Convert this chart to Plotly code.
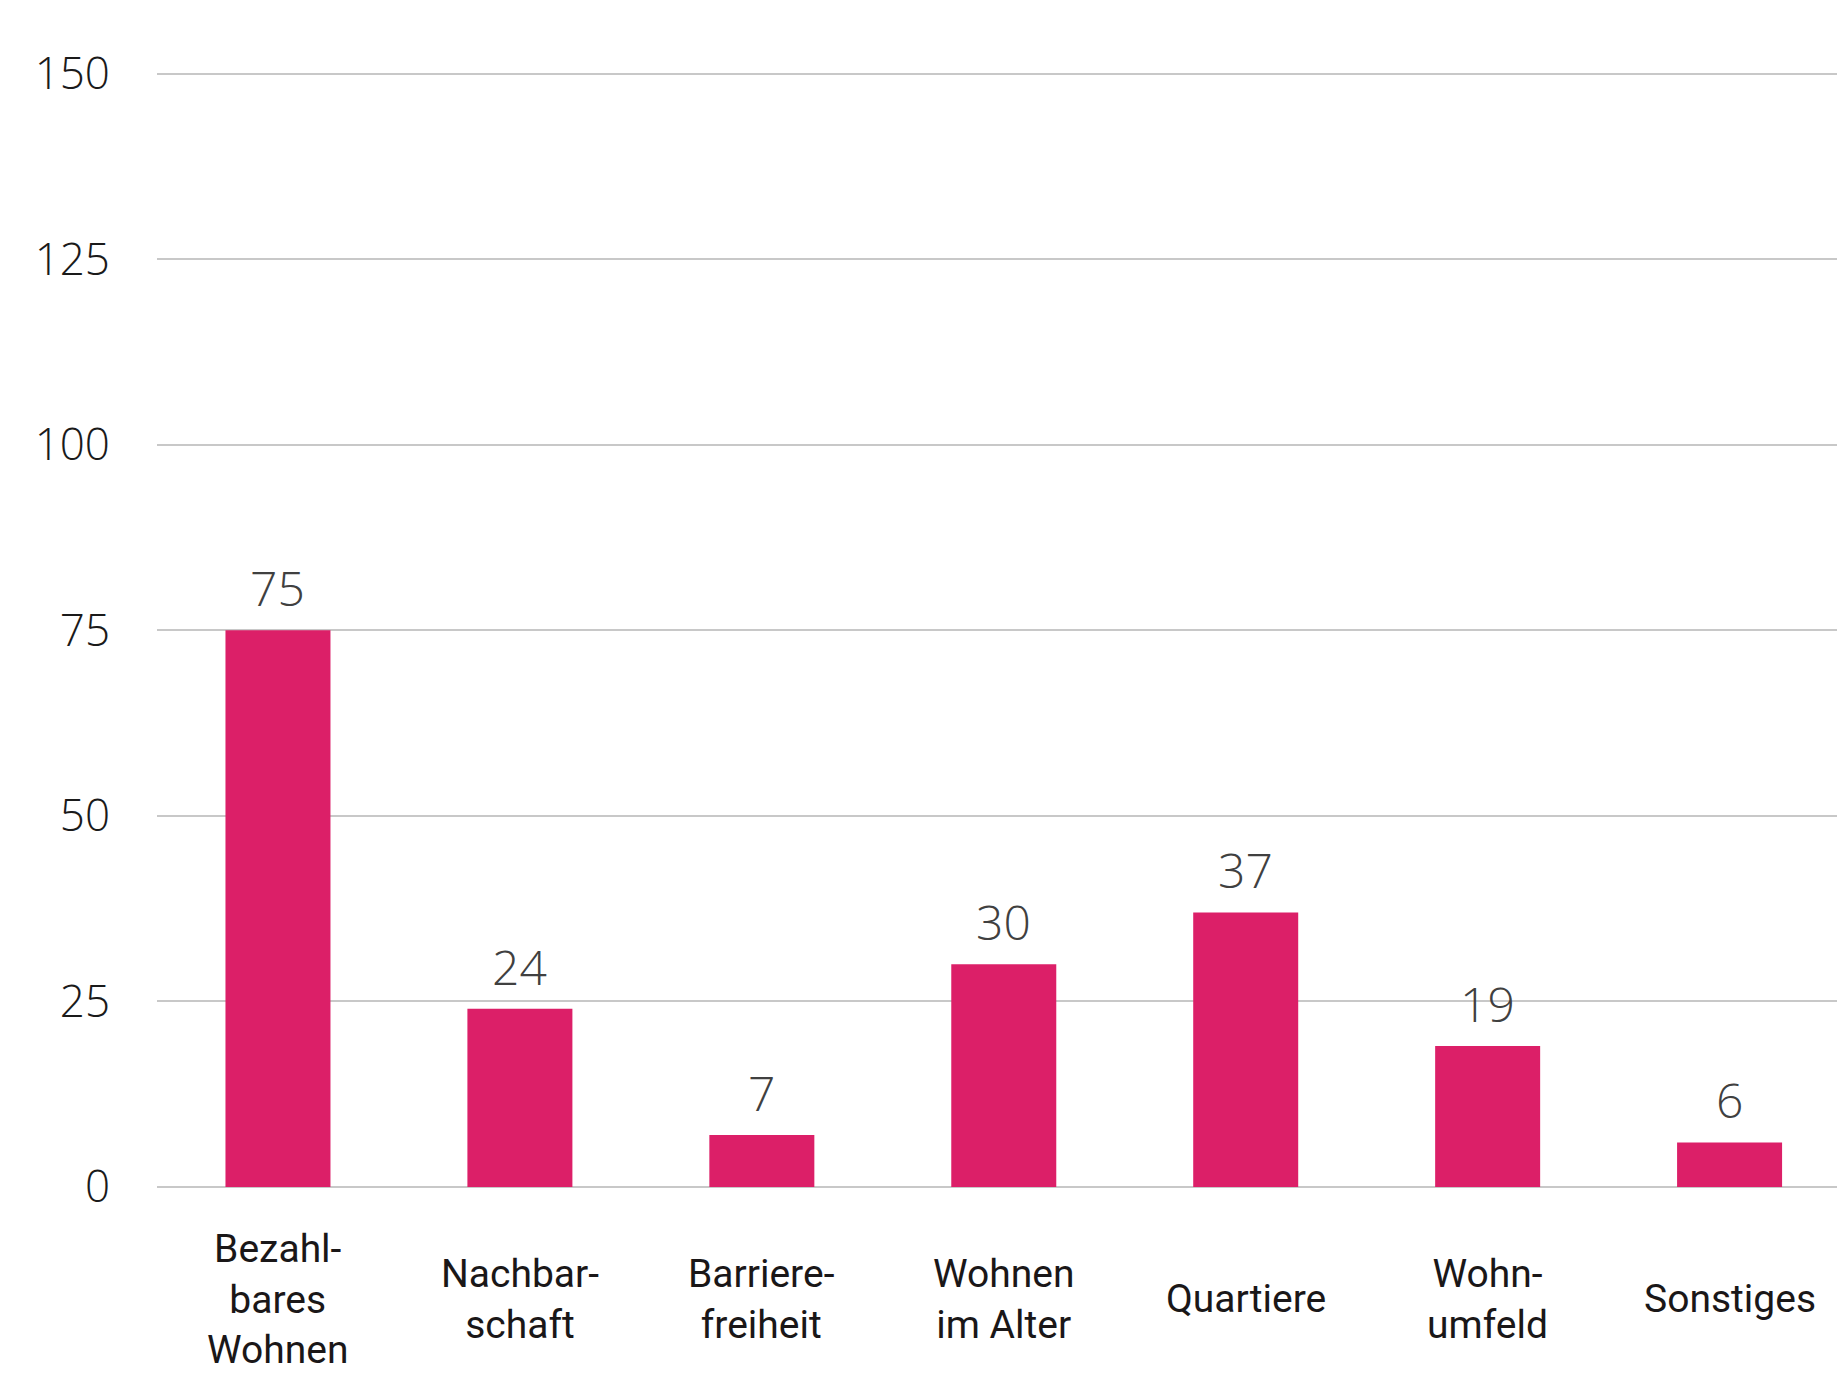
import plotly.graph_objects as go

# Data
categories = ["Bezahlbares Wohnen", "Nachbarschaft", "Barrierefreiheit",
              "Wohnen im Alter", "Quartiere", "Wohnumfeld", "Sonstiges"]
label_lines = [["Bezahl-", "bares", "Wohnen"], ["Nachbar-", "schaft"],
               ["Barriere-", "freiheit"], ["Wohnen", "im Alter"], ["Quartiere"],
               ["Wohn-", "umfeld"], ["Sonstiges"]]
values = [75, 24, 7, 30, 37, 19, 6]
y_ticks = [0, 25, 50, 75, 100, 125, 150]

BAR_COLOR = "#DC1F68"
GRID = "#C8C8C8"

fig = go.Figure()
fig.add_trace(go.Bar(
    x=categories, y=values, marker=dict(color=BAR_COLOR, line=dict(width=0)),
    width=0.434, hoverinfo="x+y",
))

annotations = []
# value labels
for c, v in zip(categories, values):
    annotations.append(dict(
        x=c, y=v, xref="x", yref="y", text=str(v), showarrow=False,
        yanchor="bottom", yshift=8,
        font=dict(family="Open Sans", size=48, color="#404040", weight=300),
    ))
# category labels below the axis, vertically centred
for c, lines in zip(categories, label_lines):
    annotations.append(dict(
        x=c, y=0, xref="x", yref="paper", text="<br>".join(lines),
        showarrow=False, yanchor="middle", xanchor="center", align="center",
        yshift=-112,
        font=dict(family="Roboto", size=39, color="#1A1718"),
    ))

fig.update_layout(
    width=1837, height=1379,
    margin=dict(l=157, r=0, t=70, b=192, pad=0),
    paper_bgcolor="white", plot_bgcolor="white",
    showlegend=False, bargap=0.566,
    annotations=annotations,
    xaxis=dict(
        type="category", range=[-0.5, 6.444], showticklabels=False,
        showgrid=False, zeroline=False, showline=False, ticks="",
        fixedrange=True,
    ),
    yaxis=dict(
        range=[0, 150.5], tickvals=y_ticks, ticktext=[str(t) for t in y_ticks],
        showgrid=True, gridcolor=GRID, gridwidth=2,
        zeroline=True, zerolinecolor=GRID, zerolinewidth=2,
        showline=False, ticks="", ticklabelstandoff=46,
        tickfont=dict(family="Open Sans", size=44, color="#1A1A1A", weight=300),
        fixedrange=True,
    ),
)

fig.write_html("out.html")
